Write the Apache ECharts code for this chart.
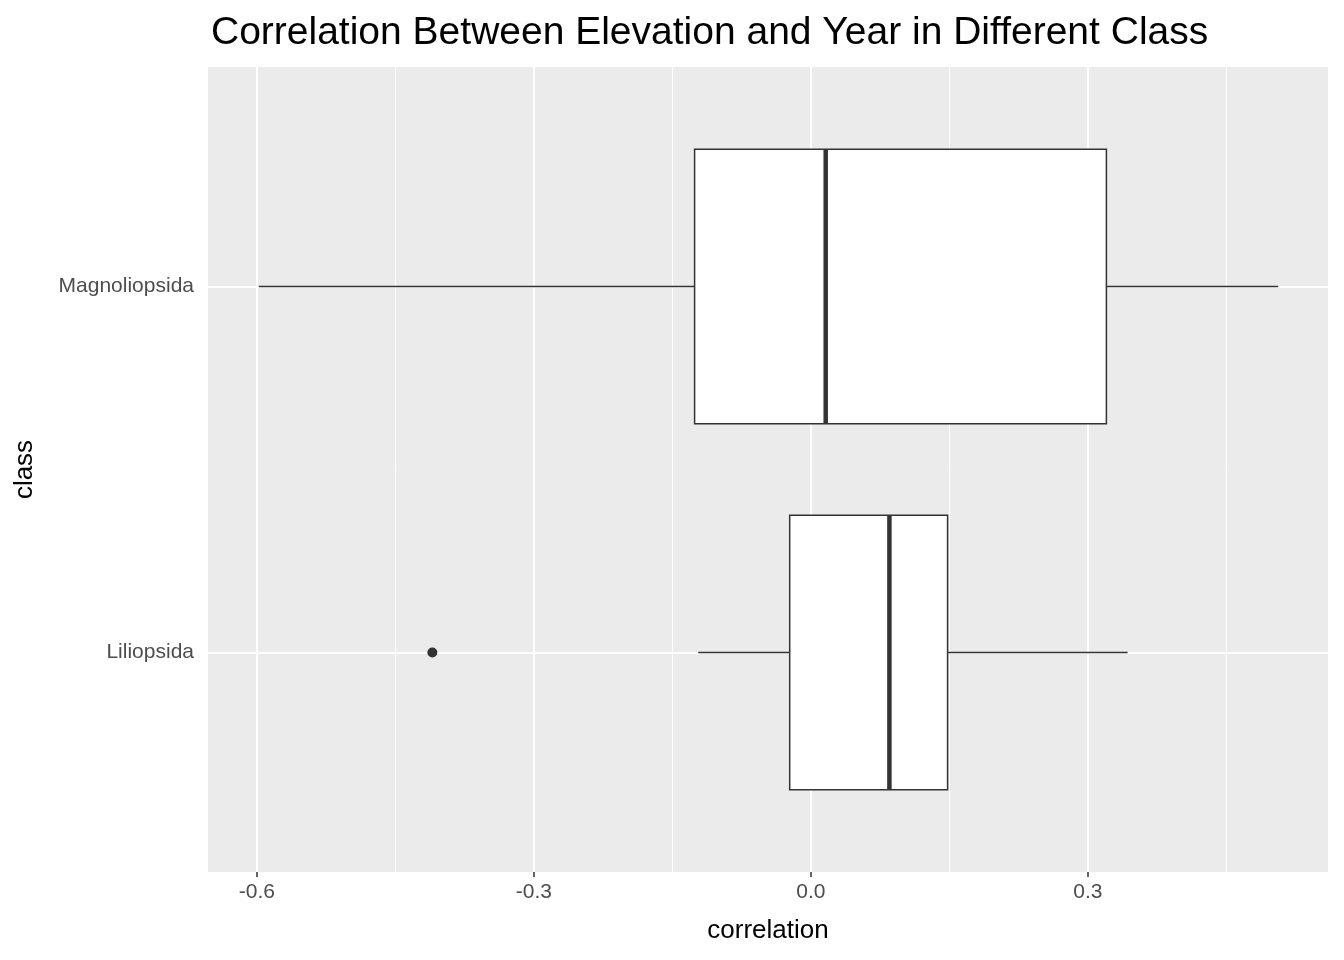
<!DOCTYPE html>
<html>
<head>
<meta charset="utf-8">
<script src="https://cdn.jsdelivr.net/npm/echarts@6/dist/echarts.min.js"></script>
<style>html,body{margin:0;background:#fff}#chart{width:1344px;height:960px}</style>
</head>
<body>
<div id="chart"></div>
<script>
// box stats: [position, low whisker, q1, median, q3, high whisker]
const classes = ["Liliopsida", "Magnoliopsida"];
const boxStats = [
  [1, -0.122, -0.023, 0.085, 0.148, 0.343],
  [2, -0.598, -0.126, 0.016, 0.320, 0.506]
];
const outliers = [[-0.410, 1]];
const xTicks = [-0.6, -0.3, 0.0, 0.3];
const xMinor = [-0.45, -0.15, 0.15, 0.45];

const chart = echarts.init(document.getElementById("chart"));

const gridLines = [];
xMinor.forEach(v => gridLines.push({ xAxis: v, lineStyle: { width: 1 } }));
xTicks.forEach(v => gridLines.push({ xAxis: v, lineStyle: { width: 2 } }));
[1, 2].forEach(v => gridLines.push({ yAxis: v, lineStyle: { width: 2 } }));

const half = 0.375;
function renderBox(params, api) {
  const y = api.value(0);
  const lo = api.coord([api.value(1), y]);
  const q1 = api.coord([api.value(2), y + half]);
  const q3 = api.coord([api.value(4), y - half]);
  const hi = api.coord([api.value(5), y]);
  const mTop = api.coord([api.value(3), y + half]);
  const mBot = api.coord([api.value(3), y - half]);
  const line = { stroke: "#333333", lineWidth: 1.5 };
  return {
    type: "group",
    children: [
      { type: "line", shape: { x1: lo[0], y1: lo[1], x2: q1[0], y2: lo[1] }, style: line },
      { type: "line", shape: { x1: q3[0], y1: hi[1], x2: hi[0], y2: hi[1] }, style: line },
      { type: "rect", shape: { x: q1[0], y: q1[1], width: q3[0] - q1[0], height: q3[1] - q1[1] },
        style: { fill: "#ffffff", stroke: "#333333", lineWidth: 1.5 } },
      { type: "line", shape: { x1: mTop[0], y1: mTop[1], x2: mBot[0], y2: mBot[1] },
        style: { stroke: "#333333", lineWidth: 4.5 } }
    ]
  };
}

chart.setOption({
  animation: false,
  title: {
    text: "Correlation Between Elevation and Year in Different Class",
    left: 206, top: 9,
    textStyle: { fontFamily: "Liberation Sans, Arial", fontSize: 39, fontWeight: "normal", color: "#000" }
  },
  grid: { left: 208, right: 16, top: 67, bottom: 88, backgroundColor: "#ebebeb", show: true, borderWidth: 0 },
  xAxis: {
    type: "value", min: -0.653, max: 0.56,
    name: "correlation", nameLocation: "middle", nameGap: 46,
    nameTextStyle: { fontFamily: "Liberation Sans, Arial", fontSize: 26, color: "#000" },
    axisLine: { show: false },
    axisTick: { show: true, length: 5, customValues: xTicks, lineStyle: { color: "#333", width: 1.5 } },
    axisLabel: { customValues: xTicks, formatter: v => v.toFixed(1), color: "#4d4d4d", fontSize: 21, margin: 10, fontFamily: "Liberation Sans, Arial" },
    splitLine: { show: false }
  },
  yAxis: {
    type: "value", min: 0.4, max: 2.6,
    name: "class", nameLocation: "middle", nameGap: 170, nameRotate: 90,
    nameTextStyle: { fontFamily: "Liberation Sans, Arial", fontSize: 26, color: "#000" },
    axisLine: { show: false },
    axisTick: { show: true, length: 6, customValues: [1, 2], lineStyle: { color: "#333", width: 1.5 } },
    axisLabel: { customValues: [1, 2], formatter: v => classes[Math.round(v) - 1], color: "#4d4d4d", fontSize: 21, margin: 14, fontFamily: "Liberation Sans, Arial" },
    splitLine: { show: false }
  },
  series: [
    {
      type: "scatter", data: [], silent: true,
      markLine: { silent: true, symbol: "none", label: { show: false },
        lineStyle: { color: "#ffffff", type: "solid" }, data: gridLines }
    },
    { type: "custom", renderItem: renderBox, data: boxStats, encode: { x: [1, 2, 3, 4, 5], y: 0 }, z: 5 },
    { type: "scatter", data: outliers, symbolSize: 10, itemStyle: { color: "#333333", opacity: 1 }, z: 6 }
  ]
});
</script>
</body>
</html>
